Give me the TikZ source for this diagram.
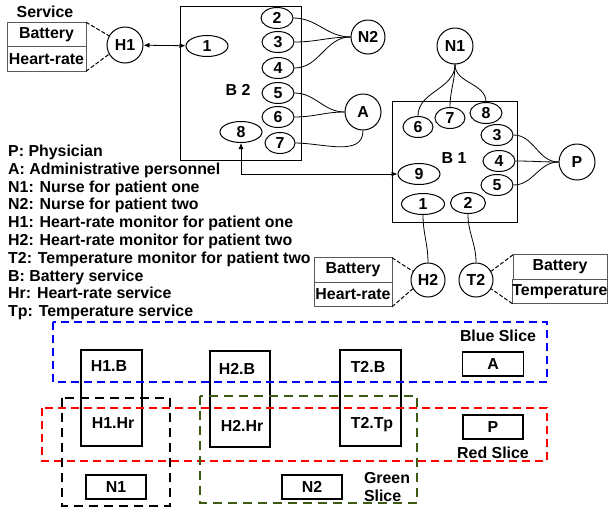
\documentclass[tikz,border=0pt]{standalone}
\usepackage{fontspec}
\setmainfont{Liberation Sans}
\usetikzlibrary{arrows.meta, positioning, shapes.geometric}
\definecolor{slicegreen}{RGB}{60,90,20}
\newcommand{\figfont}{\fontsize{15.9}{17.8}\selectfont\bfseries}

\begin{document}
\begin{tikzpicture}[x=1pt, y=-1pt,
    every node/.style={font=\figfont, inner sep=0pt},
    dev/.style={circle, draw, line width=1pt, minimum size=36pt},
    port/.style={ellipse, draw, line width=1pt, minimum width=32pt, minimum height=21pt},
    wideport/.style={port, minimum width=42pt},
    broker/.style={draw, line width=1pt},
    cell/.style={draw=black!65, line width=1pt, outer sep=0pt, minimum height=24.5pt},
    link/.style={line width=0.8pt},
    twoway/.style={link, {Latex[length=6pt,width=5pt]}-{Latex[length=6pt,width=5pt]}},
    svc/.style={dash pattern=on 4pt off 2pt, line width=1pt},
    col/.style={draw, line width=1.1pt, minimum width=61pt, minimum height=96pt},
    tag/.style={draw, line width=1.3pt, minimum width=60pt, minimum height=24pt},
    slice/.style={dash pattern=on 8pt off 5pt, line width=1.3pt},
    group/.style={dash pattern=on 9pt off 6pt, line width=2.2pt}
]
    \useasboundingbox (0,0) rectangle (608,512);

    % H1 and its services
    \node (service) at (45,12) {Service};
    \node[cell, minimum width=79pt] (hb1) at (46.5,34.5) {Battery};
    \node[cell, minimum width=79pt, below=0pt of hb1] (hh1) {Heart-rate};
    \node[dev] (h1) at (125,45) {H1};
    \draw[svc] (hb1.north east) -- (h1.150);
    \draw[svc] (hh1.south east) -- (h1.210);

    % broker B 2
    \node[broker, minimum width=121pt, minimum height=154pt] (b2) at (240.5,83) {};
    \node (b2lbl) at (238,90) {B 2};
    \node[wideport] (b2p1) at (207,46) {1};
    \node[port] (b2p2) at (277,18) {2};
    \node[port] (b2p3) at (278,42) {3};
    \node[port] (b2p4) at (278,68) {4};
    \node[port] (b2p5) at (278,93) {5};
    \node[port] (b2p6) at (278,117) {6};
    \node[port, minimum width=30pt] (b2p7) at (280,143) {7};
    \node[wideport] (b2p8) at (241,132) {8};
    \node[dev, minimum size=34pt] (n2) at (368,37) {N2};
    \node[dev] (a) at (363,112) {A};
    \draw[twoway] (h1) -- (b2p1);
    \foreach \p in {2,3,4}
        \draw[link] (b2p\p.east) to[out=0, in=180] (n2.west);
    \foreach \p in {5,6}
        \draw[link] (b2p\p.east) to[out=0, in=180] (a.west);
    \draw[link] (b2p7.east) to[out=0, in=-90] (a.south);

    % broker B 1
    \node[broker, minimum width=125pt, minimum height=121pt] (b1) at (454.5,161.5) {};
    \node (b1lbl) at (454,158) {B 1};
    \node[port, minimum width=30pt] (b1p6) at (418,127) {6};
    \node[port, minimum width=30pt] (b1p7) at (450,118) {7};
    \node[port] (b1p8) at (486,113) {8};
    \node[port] (b1p3) at (497,135) {3};
    \node[port] (b1p4) at (499,161) {4};
    \node[port] (b1p5) at (497,185) {5};
    \node[wideport] (b1p9) at (419,174) {9};
    \node[wideport, minimum width=43pt] (b1p1) at (423,204) {1};
    \node[port, minimum width=35pt] (b1p2) at (468,203) {2};
    \node[dev] (n1) at (455,46) {N1};
    \node[dev] (p) at (577,162) {P};
    \foreach \p in {6,7,8}
        \draw[link] (n1.south) to[out=-90, in=90] (b1p\p.north);
    \foreach \p in {3,4,5}
        \draw[link] (b1p\p.east) to[out=0, in=180] (p.west);
    \draw[twoway] (b2p8.south) |- (b1p9.west);

    % H2, T2 and their services
    \node[dev, minimum size=34pt] (h2) at (428,280) {H2};
    \node[dev, minimum size=34pt] (t2) at (476,280) {T2};
    \draw[link] (b1p1.south) to[out=-90, in=90] (h2.north);
    \draw[link] (b1p2.south) to[out=-90, in=90] (t2.north);
    \node[cell, minimum width=78pt] (hb2) at (353,270) {Battery};
    \node[cell, minimum width=78pt, below=0pt of hb2] (hh2) {Heart-rate};
    \node[cell, minimum width=94pt] (tb2) at (560,267) {Battery};
    \node[cell, minimum width=94pt, below=0pt of tb2] (tt2) {Temperature};
    \draw[svc] (hb2.north east) -- (h2.150);
    \draw[svc] (hh2.south east) -- (h2.210);
    \draw[svc] (tb2.north west) -- (t2.30);
    \draw[svc] (tt2.south west) -- (t2.-30);

    % legend
    \foreach \txt [count=\i from 0] in {P: Physician, A: Administrative personnel,
        N1: Nurse for patient one, N2: Nurse for patient two,
        H1: Heart-rate monitor for patient one, H2: Heart-rate monitor for patient two,
        T2: Temperature monitor for patient two, B: Battery service,
        Hr: Heart-rate service, Tp: Temperature service}
        \node[anchor=base west] (leg\i) at (8,{156.5+17.8*\i}) {\txt};

    % slices
    \node[col] (c1) at (111.5,398) {};
    \node[col, minimum width=60pt] (c2) at (240,399) {};
    \node[col] (c3) at (370.5,398) {};
    \node (c1b) at (109,366) {H1.B};
    \node (c1h) at (113,423) {H1.Hr};
    \node (c2b) at (237,369) {H2.B};
    \node (c2h) at (242,426) {H2.Hr};
    \node (c3b) at (368,367) {T2.B};
    \node (c3t) at (372,425) {T2.Tp};
    \node[tag, minimum width=61pt] (ta) at (493,364) {A};
    \node[tag] (tp) at (493,427) {P};
    \node[tag] (tn1) at (116,487) {N1};
    \node[tag] (tn2) at (312,487) {N2};
    \draw[slice, blue] (53,322) rectangle (547,382);
    \draw[slice, red] (42,408) rectangle (547,461);
    \draw[group, black] (62,398) rectangle (170,506);
    \draw[group, slicegreen] (200,396) rectangle (417,503);
    \node (bluelbl) at (498,336) {Blue Slice};
    \node (redlbl) at (493,453) {Red Slice};
    \node[align=left] (greenlbl) at (387,487) {Green\\Slice};
\end{tikzpicture}
\end{document}
